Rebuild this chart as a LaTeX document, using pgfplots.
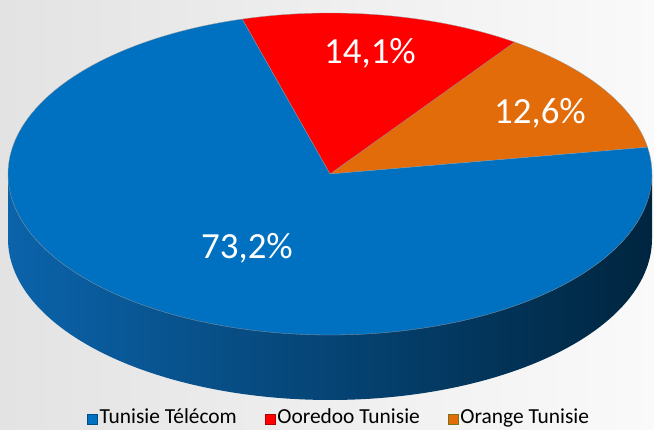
\documentclass[border=0pt]{standalone}
\usepackage{pgfplots}
\pgfplotsset{compat=1.18}
\usepackage{pgfplotstable}
\usepackage{fontspec}
\setmainfont{Carlito}

\definecolor{cTT}{HTML}{0070C0}
\definecolor{cOO}{HTML}{FF0000}
\definecolor{cOR}{HTML}{E26B0A}
\definecolor{sideL}{HTML}{0B63AA}
\definecolor{sideM}{HTML}{01497F}
\definecolor{sideR}{HTML}{00253F}

\pgfplotstableread{
name value
TT 73.2
OO 14.1
OR 12.6
}\sharetable

\pgfplotstablegetelem{0}{value}\of\sharetable \let\vTT\pgfplotsretval
\pgfplotstablegetelem{1}{value}\of\sharetable \let\vOO\pgfplotsretval
\pgfplotstablegetelem{2}{value}\of\sharetable \let\vOR\pgfplotsretval

\pgfmathsetmacro\tot{\vTT+\vOO+\vOR}
\pgfmathsetmacro\aA{9.6}
\pgfmathsetmacro\aB{\aA+\vOR/\tot*360}
\pgfmathsetmacro\aC{\aB+\vOO/\tot*360}
\pgfmathsetmacro\aD{\aA+360}

\def\cx{330}\def\cy{256}\def\rx{322}\def\ry{161}\def\dep{65}
\pgfmathsetmacro\xL{\cx-\rx}
\pgfmathsetmacro\xR{\cx+\rx}
\pgfmathsetmacro\yB{\cy-\dep}

\begin{document}
\begin{tikzpicture}
\begin{axis}[
  name=ax,
  scale only axis, width=654bp, height=430bp,
  xmin=0, xmax=654, ymin=0, ymax=430,
  axis lines=none, clip=false,
  legend columns=3,
  legend image code/.code={\draw[#1, line width=0.5bp] (0bp,-7bp) rectangle (10bp,3bp);},
  legend style={draw=none, fill=none, at={(339/654,13/430)}, anchor=center,
    font=\fontsize{21.5}{24}\selectfont,
    nodes={inner xsep=2bp, inner ysep=0.5bp},
    /tikz/every even column/.append style={column sep=26bp}},
]
% background
\fill[left color=black!11, right color=black!2] (axis cs:0,0) rectangle (axis cs:654,430);

% side of the cylinder
\addplot[draw=none, left color=sideL, middle color=sideM, right color=sideR,
  domain=180:360, samples=120, forget plot]
  ({\cx+\rx*cos(x)},{\yB+\ry*sin(x)}) -- (axis cs:\xR,\cy) -- (axis cs:\xL,\cy) -- cycle;

% top face wedges
\addplot[fill=cOR, draw=black!40, line width=0.3bp, domain=\aA:\aB, samples=60, forget plot]
  ({\cx+\rx*cos(x)},{\cy+\ry*sin(x)}) -- (axis cs:\cx,\cy) -- cycle;
\addplot[fill=cOO, draw=black!40, line width=0.3bp, domain=\aB:\aC, samples=60, forget plot]
  ({\cx+\rx*cos(x)},{\cy+\ry*sin(x)}) -- (axis cs:\cx,\cy) -- cycle;
\addplot[fill=cTT, draw=black!40, line width=0.3bp, domain=\aC:\aD, samples=200, forget plot]
  ({\cx+\rx*cos(x)},{\cy+\ry*sin(x)}) -- (axis cs:\cx,\cy) -- cycle;

% value labels
\node[white, anchor=base, font=\fontsize{37}{40}\selectfont] at (axis cs:247,172) {73,2\%};
\node[white, anchor=base, font=\fontsize{37}{40}\selectfont] at (axis cs:370,367) {14,1\%};
\node[white, anchor=base, font=\fontsize{37}{40}\selectfont] at (axis cs:540,307) {12,6\%};

\addlegendimage{fill=cTT, draw=cTT!70!black}
\addlegendentry{Tunisie Télécom}
\addlegendimage{fill=cOO, draw=cOO!70!black}
\addlegendentry{Ooredoo Tunisie}
\addlegendimage{fill=cOR, draw=olive!80!black}
\addlegendentry{Orange Tunisie}
\end{axis}
\pgfresetboundingbox
\useasboundingbox (ax.south west) rectangle (ax.north east);
\end{tikzpicture}
\end{document}
